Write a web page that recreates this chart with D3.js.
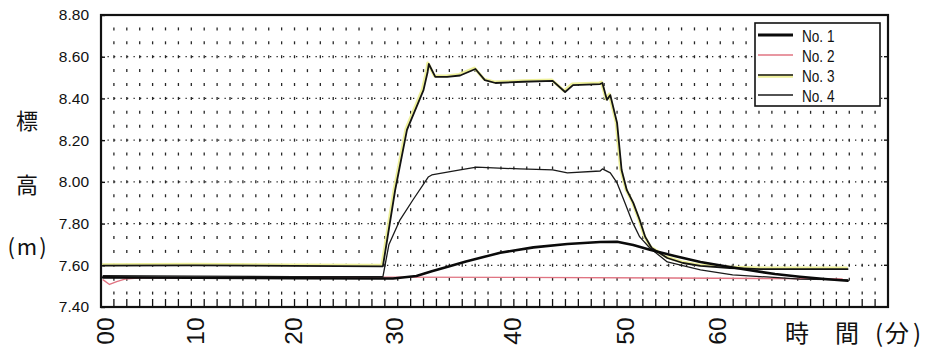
<!DOCTYPE html>
<html>
<head>
<meta charset="utf-8">
<script src="https://cdn.jsdelivr.net/npm/d3@7"></script>
<style>
  body { margin: 0; background: #fff; }
  svg { display: block; }
</style>
</head>
<body>
<svg id="chart" width="926" height="355"></svg>
<script>
// Water level (標高, m) at four gauges against elapsed time (分)
const seriesNames = ["No. 1", "No. 2", "No. 3", "No. 4"];
const minuteLabels = [0, 10, 20, 30, 40, 50, 60];
const levelTicks = [7.4, 7.6, 7.8, 8.0, 8.2, 8.4, 8.6, 8.8];
const xTitleParts = ["時", "間", "(", "分", ")"];

// [minute, level]
const no1 = [
  [-0.2, 7.542], [10, 7.540], [20, 7.538], [28.9, 7.537], [29.9, 7.537],
  [31.9, 7.549], [33.2, 7.571], [34.7, 7.595], [36.1, 7.618], [37.5, 7.638],
  [39.0, 7.660], [41.9, 7.686], [44.9, 7.702], [47.8, 7.712], [49.3, 7.713],
  [50.9, 7.697], [52.7, 7.675], [55.4, 7.645], [58.2, 7.616], [60.9, 7.595],
  [63.6, 7.576], [66.3, 7.558], [69.0, 7.545], [71.7, 7.534], [74.2, 7.526]
];
const no2 = [
  [-0.2, 7.530], [0.5, 7.508], [1.3, 7.522], [2.2, 7.534], [4.0, 7.540],
  [15, 7.541], [28.9, 7.543], [40, 7.542], [55, 7.539], [65, 7.537], [73.6, 7.535]
];
const no3 = [
  [-0.2, 7.598], [10, 7.600], [20, 7.597], [28.9, 7.595], [30.1, 7.961],
  [31.1, 8.249], [32.5, 8.440], [32.85, 8.527], [32.95, 8.565], [33.5, 8.503],
  [34.5, 8.503], [35.6, 8.510], [36.9, 8.541], [37.7, 8.488], [38.6, 8.474],
  [41.0, 8.480], [43.6, 8.484], [44.7, 8.431], [45.4, 8.464], [47.8, 8.469],
  [48.0, 8.474], [48.4, 8.393], [48.7, 8.416], [49.3, 8.282], [49.7, 8.057],
  [50.2, 7.960], [50.9, 7.899], [51.6, 7.817], [52.2, 7.736], [52.9, 7.683],
  [54.6, 7.635], [56.3, 7.611], [58.2, 7.597], [61.4, 7.587], [64.7, 7.582],
  [74.2, 7.582]
];
const no4 = [
  [-0.2, 7.550], [10, 7.548], [20, 7.546], [28.9, 7.545], [29.5, 7.700],
  [30.5, 7.817], [31.6, 7.913], [32.9, 8.023], [33.2, 8.033], [35.6, 8.057],
  [37.0, 8.071], [38.4, 8.067], [40.7, 8.062], [43.6, 8.057], [44.9, 8.043],
  [47.8, 8.052], [48.0, 8.062], [48.7, 8.043], [49.3, 7.995], [50.0, 7.899],
  [50.8, 7.808], [51.6, 7.736], [52.7, 7.683], [54.6, 7.616], [58.2, 7.578],
  [61.7, 7.554], [65.4, 7.544], [69.0, 7.534], [74.2, 7.530]
];

const svg = d3.select("#chart");
const plot = { left: 101, right: 888, top: 15, bottom: 307 };

// time axis: label positions are spaced unevenly along the frame
const x = d3.scaleLinear()
  .domain(minuteLabels)
  .range([105, 195, 293, 394, 512, 625, 717]);
// evenly spaced minor divisions of the frame (grid columns / bottom ticks)
const gx = d3.scaleLinear().domain([0, 61]).range([plot.left, plot.right]);
const y = d3.scaleLinear().domain([7.4, 8.8]).range([plot.bottom, plot.top]);

// ---- dotted grid ----
const grid = svg.append("g").attr("stroke", "#262626");
const cols = d3.range(1, 61);
const rowStep = 0.2 / 3;
const rows = d3.range(1, 21).map(k => 7.4 + k * rowStep);
cols.forEach(i => {
  grid.selectAll(null).data(rows).join("line")
    .attr("x1", gx(i)).attr("x2", gx(i))
    .attr("y1", d => y(d) - 1.5).attr("y2", d => y(d) + 1.5)
    .attr("stroke-width", 1.3);
});
grid.selectAll("line.major").data(levelTicks.slice(1, -1)).join("line")
  .attr("class", "major")
  .attr("x1", plot.left).attr("x2", plot.right)
  .attr("y1", d => y(d)).attr("y2", d => y(d))
  .attr("stroke-width", 1.2)
  .attr("stroke-dasharray", "1.3,5.2");

// bottom minor ticks
svg.append("g").selectAll("line").data(cols).join("line")
  .attr("x1", d => gx(d)).attr("x2", d => gx(d))
  .attr("y1", plot.bottom).attr("y2", plot.bottom - 8)
  .attr("stroke", "#111").attr("stroke-width", 1.3);

// ---- series ----
const line = d3.line().x(d => x(d[0])).y(d => y(d[1]));
const lines = svg.append("g").attr("fill", "none")
  .attr("stroke-linejoin", "round").attr("stroke-linecap", "round");

lines.append("path").datum(no2).attr("d", line)
  .attr("stroke", "#e07482").attr("stroke-width", 1.4);
lines.append("path").datum(no3).attr("d", line)
  .attr("transform", "translate(-1,-1)")
  .attr("stroke", "#eef09a").attr("stroke-width", 3);
lines.append("path").datum(no4).attr("d", line)
  .attr("stroke", "#1a1a1a").attr("stroke-width", 1.3);
lines.append("path").datum(no3).attr("d", line)
  .attr("stroke", "#141414").attr("stroke-width", 1.8);
lines.append("path").datum(no1).attr("d", line)
  .attr("stroke", "#0a0a0a").attr("stroke-width", 2.6);

// ---- frame ----
svg.append("rect")
  .attr("x", plot.left).attr("y", plot.top)
  .attr("width", plot.right - plot.left).attr("height", plot.bottom - plot.top)
  .attr("fill", "none").attr("stroke", "#111").attr("stroke-width", 2.2);

// ---- y axis ----
const yAxis = d3.axisLeft(y).tickValues(levelTicks)
  .tickFormat(d3.format(".2f")).tickSizeInner(-4).tickSizeOuter(0).tickPadding(12);
const yg = svg.append("g").attr("transform", `translate(${plot.left},0)`).call(yAxis);
yg.select(".domain").remove();
yg.selectAll(".tick line").attr("stroke", "#111").attr("stroke-width", 1.4);
yg.selectAll(".tick text")
  .attr("font-family", "Liberation Sans, Arial, sans-serif")
  .attr("font-size", 15.5).attr("fill", "#111");

// right-side ticks
svg.append("g").selectAll("line").data(levelTicks.slice(1, -1)).join("line")
  .attr("x1", plot.right).attr("x2", plot.right - 4)
  .attr("y1", d => y(d)).attr("y2", d => y(d))
  .attr("stroke", "#111").attr("stroke-width", 1.4);

// ---- x axis labels (rotated) ----
const xAxis = d3.axisBottom(x).tickValues(minuteLabels)
  .tickFormat(d3.format("02d")).tickSize(0);
const xg = svg.append("g").attr("transform", `translate(0,${plot.bottom})`).call(xAxis);
xg.select(".domain").remove();
xg.selectAll(".tick text")
  .attr("font-family", "Liberation Sans, Arial, sans-serif")
  .attr("font-size", 24.5).attr("fill", "#111")
  .attr("text-anchor", "middle").attr("dominant-baseline", "central")
  .attr("x", 0).attr("y", 0).attr("dy", null)
  .attr("transform", "translate(0,24) rotate(-90)");

// ---- axis titles ----
const cjk = "'Noto Sans CJK JP', 'Noto Sans CJK SC', sans-serif";
const yTitle = svg.append("g").attr("font-family", cjk).attr("fill", "#111")
  .attr("text-anchor", "middle").attr("dominant-baseline", "central");
yTitle.append("text").attr("x", 27).attr("y", 119).attr("font-size", 22).text("標");
yTitle.append("text").attr("x", 27).attr("y", 183).attr("font-size", 22).text("高");
yTitle.append("text").attr("x", 28).attr("y", 245).attr("font-size", 22)
  .attr("letter-spacing", 2).text("(m)");

// x title drawn glyph by glyph with wide spacing
const xTitlePos = [797, 847, 879, 897, 917];
svg.append("g").attr("font-family", cjk).attr("font-size", 24).attr("fill", "#111")
  .attr("text-anchor", "middle").attr("dominant-baseline", "central")
  .selectAll("text").data(xTitleParts).join("text")
  .attr("x", (d, i) => xTitlePos[i]).attr("y", 331)
  .text(d => d);

// ---- legend ----
const legend = svg.append("g");
legend.append("rect").attr("x", 755).attr("y", 23).attr("width", 125).attr("height", 83)
  .attr("fill", "#fff").attr("stroke", "#111").attr("stroke-width", 1.6);
const legendRow = d3.scalePoint().domain(seriesNames).range([35, 95]);
const legendStyles = {
  "No. 1": [{ stroke: "#0a0a0a", w: 2.8 }],
  "No. 2": [{ stroke: "#e07482", w: 1.6 }],
  "No. 3": [{ stroke: "#eef09a", w: 3.4, dy: 1 }, { stroke: "#141414", w: 1.7 }],
  "No. 4": [{ stroke: "#1a1a1a", w: 1.3 }]
};
seriesNames.forEach(name => {
  const yy = legendRow(name);
  legendStyles[name].forEach(s => {
    legend.append("line").attr("x1", 758).attr("x2", 793)
      .attr("y1", yy + (s.dy || 0)).attr("y2", yy + (s.dy || 0))
      .attr("stroke", s.stroke).attr("stroke-width", s.w);
  });
  legend.append("text")
    .attr("transform", `translate(802,${yy + 1}) scale(0.8,1)`)
    .attr("font-family", "Liberation Sans, Arial, sans-serif")
    .attr("font-size", 17).attr("fill", "#111")
    .attr("dominant-baseline", "central").text(name);
});
</script>
</body>
</html>
